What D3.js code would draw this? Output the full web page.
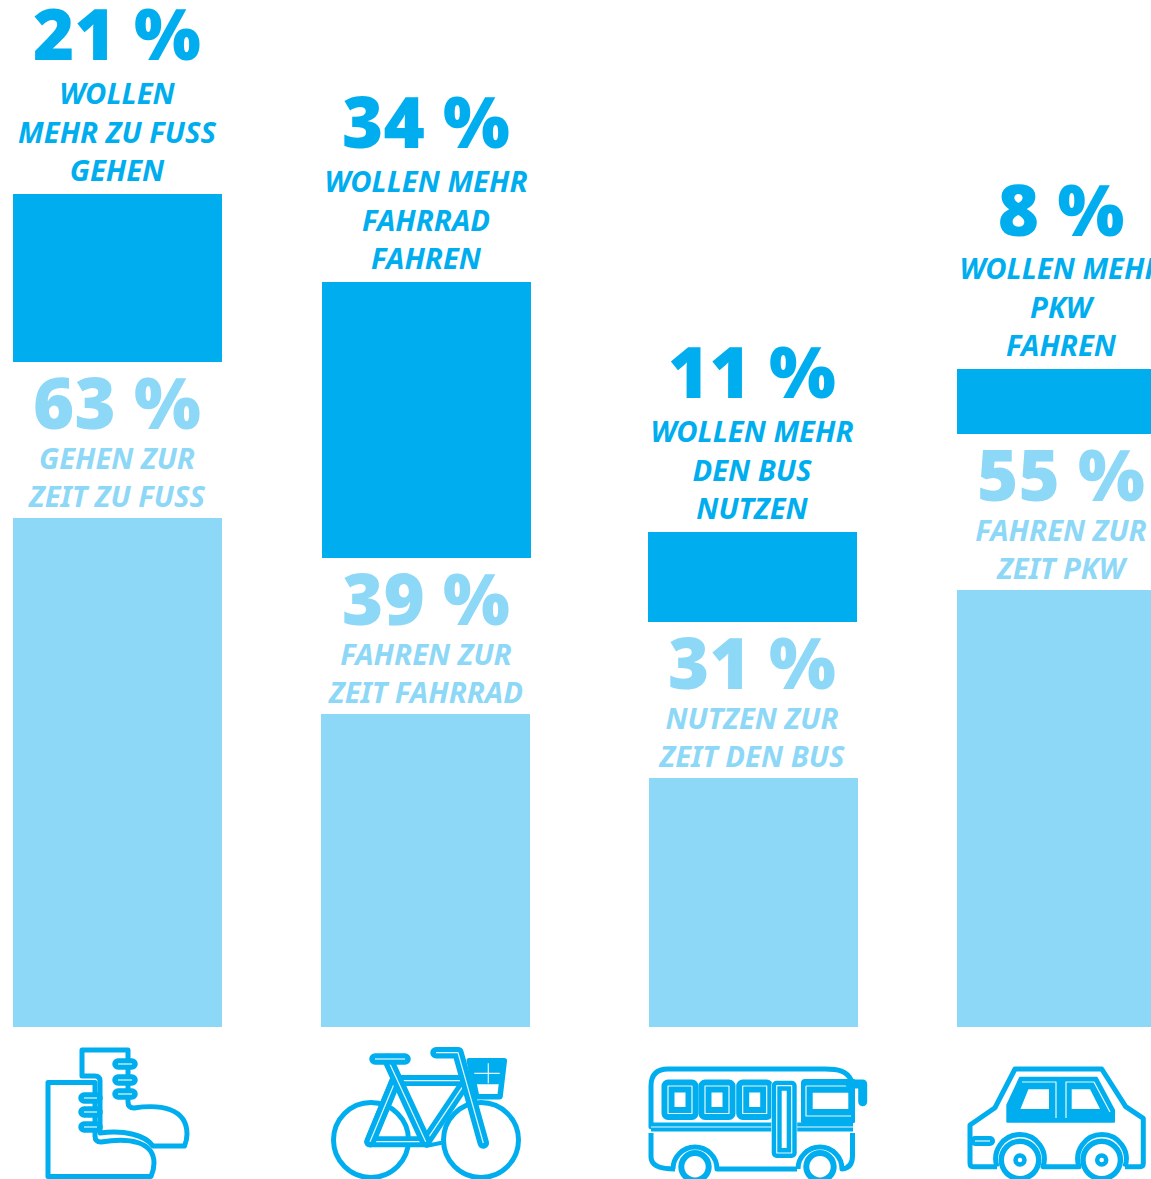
<!DOCTYPE html>
<html>
<head>
<meta charset="utf-8">
<script src="https://cdn.jsdelivr.net/npm/d3@7"></script>
<style>
html, body { margin: 0; padding: 0; background: #fff; overflow: hidden; }
svg { display: block; }
text { font-family: "Noto Sans", sans-serif; text-anchor: middle; }
</style>
</head>
<body>
<div id="chart"></div>
<script>
const modes = ['walk', 'bike', 'bus', 'car'];

// share that want more of it: printed label and bar length
const wantLabels = ['21 %', '34 %', '11 %', '8 %'];
const wantValues = [20.87, 34.29, 11.18, 8.07];
const wantText = [
  ['WOLLEN', 'MEHR ZU FUSS', 'GEHEN'],
  ['WOLLEN MEHR', 'FAHRRAD', 'FAHREN'],
  ['WOLLEN MEHR', 'DEN BUS', 'NUTZEN'],
  ['WOLLEN MEHR', 'PKW', 'FAHREN']
];

// share that use it today
const nowLabels = ['63 %', '39 %', '31 %', '55 %'];
const nowValues = [63.17, 38.82, 30.87, 54.22];
const nowText = [
  ['GEHEN ZUR', 'ZEIT ZU FUSS'],
  ['FAHREN ZUR', 'ZEIT FAHRRAD'],
  ['NUTZEN ZUR', 'ZEIT DEN BUS'],
  ['FAHREN ZUR', 'ZEIT PKW']
];

const width = 1151;
const height = 1179;
const dark = '#00aeef';
const light = '#8dd7f7';
const baseline = 1026.5;
const barWidth = 209;
const stackGap = 156;
const lineHeight = 38.3;

const xDark = d3.scaleOrdinal().domain(modes).range([13, 322, 648, 957]);
const xLight = d3.scaleOrdinal().domain(modes).range([13, 321, 649, 957]);
const yLength = d3.scaleLinear().domain([0, 100]).range([0, 805]);

const svg = d3.select('#chart').append('svg')
  .attr('width', width)
  .attr('height', height);

function drawLabel(g, cx, barTop, big, lines, colour, bigOffset, textOffset) {
  g.append('text')
    .attr('x', cx)
    .attr('y', barTop - bigOffset)
    .attr('fill', colour)
    .attr('font-size', 70.5)
    .attr('font-weight', 900)
    .text(big);
  lines.forEach((line, i) => {
    g.append('text')
      .attr('x', cx)
      .attr('y', barTop - textOffset - (lines.length - 1 - i) * lineHeight)
      .attr('fill', colour)
      .attr('font-size', 29.2)
      .attr('font-weight', 700)
      .attr('font-style', 'italic')
      .text(line);
  });
}

modes.forEach((mode, i) => {
  const g = svg.append('g').attr('class', mode);
  const nowTop = baseline - yLength(nowValues[i]);
  const wantBottom = nowTop - stackGap;
  const wantTop = wantBottom - yLength(wantValues[i]);

  g.append('rect')
    .attr('x', xLight(mode))
    .attr('y', nowTop)
    .attr('width', barWidth)
    .attr('height', yLength(nowValues[i]))
    .attr('fill', light)
    .attr('shape-rendering', 'crispEdges');
  g.append('rect')
    .attr('x', xDark(mode))
    .attr('y', wantTop)
    .attr('width', barWidth)
    .attr('height', yLength(wantValues[i]))
    .attr('fill', dark)
    .attr('shape-rendering', 'crispEdges');

  const cx = xDark(mode) + barWidth / 2 - 0.5;
  drawLabel(g, cx, wantTop, wantLabels[i], wantText[i], dark, 133.5, 13);
  drawLabel(g, cx, nowTop, nowLabels[i], nowText[i], light, 89, 11);
});

// pictograms under the bars
const icons = svg.append('g').attr('class', 'icons').attr('fill', 'none').attr('stroke-linejoin', 'round');

function outline(d, w) {
  return icons.append('path').attr('d', d).attr('stroke', dark).attr('stroke-width', w || 5);
}
function hairline(d) {
  return icons.append('path').attr('d', d).attr('stroke', '#fff').attr('stroke-width', 1.2).attr('opacity', 0.9);
}
function tube(d, w) {
  outline(d, w || 11.5).attr('stroke-linecap', 'round');
  hairline(d);
}
function solid(d) {
  return icons.append('path').attr('d', d).attr('fill', dark).attr('fill-rule', 'evenodd')
    .attr('stroke', dark).attr('stroke-width', 2);
}
function ring(cx, cy, r, w, colour) {
  return icons.append('circle').attr('cx', cx).attr('cy', cy).attr('r', r)
    .attr('stroke', colour || dark).attr('stroke-width', w);
}

// boot
outline('M82,1076V1050H128V1102Q128,1108 134,1108C160,1104 187,1108 187,1134Q187,1140 184.500,1146H153C145,1135 125,1130 100,1133V1081Q100,1076 95,1076H82Z');
[1064, 1080, 1094].forEach(y => tube(`M118,${y}H132`, 11.5));
outline('M48,1176.500V1082.500H95V1136Q95,1142 101,1142C130,1137 154,1142 154,1163Q154,1170 151,1176.500Z');
[1098, 1112, 1127].forEach(y => tube(`M84,${y}H97`, 11.5));

// bicycle
ring(371, 1140, 37.5, 5);
ring(481, 1140, 37.5, 5);
outline('M425.700,1146L441.700,1142.700', 4);
tube('M370,1141.700H425.700L466.700,1080.600H395Z', 11);
tube('M395,1081.700L370,1141.700');
tube('M387.700,1059.300L425.700,1141.700');
tube('M375,1059H405');
tube('M436,1052.700H458L483.300,1143');
outline('M469.300,1060.700H504.300L500,1096.700H476.700Z', 5.500);
solid('M472.300,1063.300H501.700L498.300,1083.300H476.700Z');
hairline('M488.300,1063.300V1083.300M474.300,1073.300H499.700');

// bus
outline('M851,1080C847,1071 838,1069 825,1069H668Q651,1069 651,1086V1126.700H853');
outline('M651,1133V1157Q651,1169 675,1169');
outline('M673,1169A21.700,21.700 0 0 1 717,1169H797');
outline('M798,1169A21.700,21.700 0 0 1 842,1169Q852.500,1168 852.500,1156V1133');
outline('M651,1127H853', 9);
hairline('M651,1127H776');
hairline('M792,1127H853');
[680, 717, 754.700].forEach(cx => {
  const r = `M${cx - 12},1086H${cx + 12}V1113.500H${cx - 12}Z`;
  outline(r, 13);
  hairline(r);
});
const door = 'M776.700,1085.700H791.700V1153H776.700Z';
icons.append('path').attr('d', door).attr('fill', '#fff').attr('stroke', '#fff').attr('stroke-width', 11);
outline(door, 10);
hairline(door);
solid('M805,1080H854V1122H802V1083Q802,1080 805,1080ZM811.700,1091.700V1110H849.300V1091.700Z');
hairline('M806,1086H851M806,1086V1116H851');
outline('M850,1084H862.700V1101.700', 9).attr('stroke-linecap', 'round');
[695, 820].forEach(cx => {
  ring(cx, 1166.700, 13.700, 6);
});

// car
outline('M997,1166.700H973Q970,1166.700 970,1163V1125L995,1107.700L1015,1069H1101.700L1125.700,1106.700L1143.300,1118.300V1163Q1143.300,1166.700 1140,1166.700H1125');
outline('M997,1166.700A24.300,24.300 0 1 1 1043,1166.700H1079A24.300,24.300 0 1 1 1125,1166.700');
tube('M975,1141H990', 10);
solid('M1020,1077.700H1060V1121.700H1007.300V1105ZM1027.700,1088.300L1019,1110H1050V1088.300Z');
solid('M1061,1077.700H1096.700L1114,1110V1121.700H1061ZM1070.700,1088.300V1110H1101.700L1090.700,1088.300Z');
hairline('M1022,1082H1056V1118');
hairline('M1066,1118V1082H1094L1110,1112');
[1020, 1101.700].forEach(cx => {
  ring(cx, 1160, 18.700, 5.400);
  ring(cx, 1160, 4.500, 4.500);
});
</script>
</body>
</html>
